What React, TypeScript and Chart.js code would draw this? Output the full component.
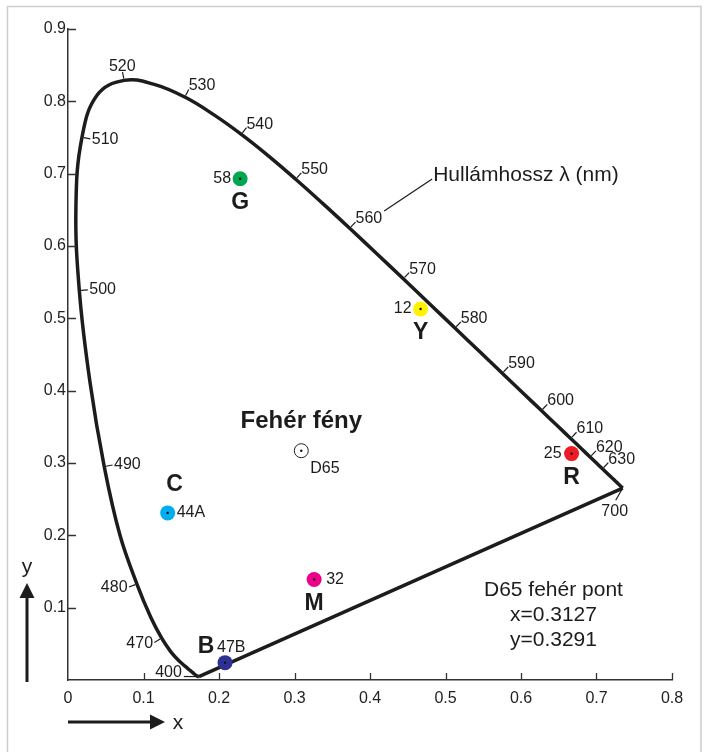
import React, { useEffect, useRef } from 'react';
import { Chart, registerables } from 'chart.js';

Chart.register(...registerables);

// ---- Spectral locus (CIE 1931 xy, as drawn in the picture) ----
const wavelengths = [
  400, 405, 410, 415, 420, 425, 430, 435, 440, 445, 450, 455, 460, 465, 470, 475, 480, 485, 490, 495,
  500, 505, 510, 515, 520, 525, 530, 535, 540, 545, 550, 555, 560, 565, 570, 575, 580, 585, 590, 595,
  600, 605, 610, 615, 620, 625, 630, 635, 640, 645, 650, 655, 660, 665, 670, 675, 680, 685, 690, 695, 700,
];
const locusX = [
  0.1733, 0.1730, 0.1726, 0.1721, 0.1714, 0.1703, 0.1689, 0.1669, 0.1644, 0.1611, 0.1566, 0.1510, 0.1440, 0.1355, 0.1241, 0.1096, 0.0913, 0.0687, 0.0480, 0.0290,
  0.0150, 0.0105, 0.0185, 0.0389, 0.0743, 0.1142, 0.1547, 0.1929, 0.2296, 0.2658, 0.3016, 0.3373, 0.3731, 0.4087, 0.4441, 0.4788, 0.5125, 0.5448, 0.5752, 0.6029,
  0.6270, 0.6482, 0.6658, 0.6801, 0.6915, 0.7006, 0.7079, 0.7140, 0.7190, 0.7230, 0.7260, 0.7283, 0.7300, 0.7311, 0.7320, 0.7327, 0.7334, 0.7340, 0.7344, 0.7346, 0.7347,
];
const locusY = [
  0.0048, 0.0048, 0.0048, 0.0048, 0.0051, 0.0058, 0.0069, 0.0086, 0.0109, 0.0138, 0.0177, 0.0227, 0.0297, 0.0399, 0.0578, 0.0868, 0.1327, 0.2007, 0.2950, 0.4127,
  0.5384, 0.6548, 0.7502, 0.8090, 0.8290, 0.8235, 0.8059, 0.7816, 0.7543, 0.7243, 0.6923, 0.6589, 0.6245, 0.5896, 0.5547, 0.5202, 0.4866, 0.4544, 0.4242, 0.3965,
  0.3725, 0.3514, 0.3340, 0.3197, 0.3083, 0.2993, 0.2920, 0.2859, 0.2809, 0.2770, 0.2740, 0.2717, 0.2700, 0.2689, 0.2680, 0.2673, 0.2666, 0.2660, 0.2656, 0.2654, 0.2653,
];

// wavelengths that carry a tick and a label
const markedWavelengths = [400, 470, 480, 490, 500, 510, 520, 530, 540, 550, 560, 570, 580, 590, 600, 610, 620, 630, 700];
const innerLabelWavelengths = [490, 500, 510];
const leaderWavelength = 560;
const waveTitle = 'Hullámhossz λ (nm)';

// ---- Colour samples ----
const sampleNames = ['G', 'Y', 'R', 'C', 'M', 'B'];
const sampleCodes = ['58', '12', '25', '44A', '32', '47B'];
const sampleX = [0.228, 0.467, 0.667, 0.132, 0.326, 0.208];
const sampleY = [0.693, 0.513, 0.313, 0.231, 0.139, 0.024];
const sampleColors = ['#00a651', '#fff200', '#ed1c24', '#00aeef', '#ec008c', '#2e3192'];

// ---- White point ----
const whiteName = 'D65';
const whiteX = 0.309;
const whiteY = 0.317;
const whiteTitle = 'Fehér fény';
const infoLines = ['D65 fehér pont', 'x=0.3127', 'y=0.3291'];
const infoX = 0.643;
const infoY = [0.124, 0.0897, 0.0552];

// ---- Axes ----
const xTickValues = [0, 0.1, 0.2, 0.3, 0.4, 0.5, 0.6, 0.7, 0.8];
const yTickValues = [0.1, 0.2, 0.3, 0.4, 0.5, 0.6, 0.7, 0.8, 0.9];
const xAxisName = 'x';
const yAxisName = 'y';

// ---- styles / placement (pixels) ----
const FONT = "'Liberation Sans', Arial, Helvetica, sans-serif";
const INK = '#1c1c1c';
const sampleLayout: Record<string, { code: [number, number, CanvasTextAlign]; name: [number, number] }> = {
  G: { code: [-9, 0, 'right'], name: [0, 24] },
  Y: { code: [-9, 0, 'right'], name: [0, 24] },
  R: { code: [-10, 0, 'right'], name: [0, 24] },
  C: { code: [9, 0, 'left'], name: [7, -28] },
  M: { code: [12, 0, 'left'], name: [0, 24] },
  B: { code: [-8, -15, 'left'], name: [-19, -16] },
};
const specialTicks: Record<number, { dx: number; dy: number; len: number; align: CanvasTextAlign; base: CanvasTextBaseline; lx: number; ly: number }> = {
  400: { dx: -1, dy: 0, len: 15, align: 'right', base: 'middle', lx: -2, ly: -4 },
  700: { dx: -0.5, dy: 0.866, len: 14, align: 'center', base: 'top', lx: -1, ly: 3 },
};

const annotations = {
  id: 'cieAnnotations',
  beforeDraw(chart: any) {
    const ctx = chart.ctx as CanvasRenderingContext2D;
    ctx.save();
    ctx.fillStyle = '#ffffff';
    ctx.fillRect(0, 0, chart.width, chart.height);
    ctx.strokeStyle = '#cdcdcd';
    ctx.lineWidth = 1.5;
    ctx.strokeRect(7.5, 6.5, 693.5, 800);
    ctx.restore();
  },
  afterDraw(chart: any) {
    const ctx = chart.ctx as CanvasRenderingContext2D;
    const xs = chart.scales.x;
    const ys = chart.scales.y;
    const P = (x: number, y: number) => [xs.getPixelForValue(x), ys.getPixelForValue(y)];
    const area = chart.chartArea;
    ctx.save();

    // inward axis ticks
    ctx.strokeStyle = '#333';
    ctx.lineWidth = 1.3;
    ctx.beginPath();
    xTickValues.filter((v) => v > 0).forEach((v) => {
      const x = Math.round(xs.getPixelForValue(v)) + 0.5;
      ctx.moveTo(x, area.bottom);
      ctx.lineTo(x, area.bottom - 7);
    });
    yTickValues.forEach((v) => {
      const y = Math.round(ys.getPixelForValue(v)) + 0.5;
      ctx.moveTo(area.left, y);
      ctx.lineTo(area.left + 8, y);
    });
    ctx.stroke();

    // wavelength ticks & labels
    ctx.font = `16px ${FONT}`;
    ctx.fillStyle = INK;
    ctx.strokeStyle = INK;
    ctx.lineWidth = 1.2;
    markedWavelengths.forEach((wl) => {
      const i = wavelengths.indexOf(wl);
      const [px, py] = P(locusX[i], locusY[i]);
      let nx: number, ny: number, len = 8.5, start = 1.8;
      let align: CanvasTextAlign, base: CanvasTextBaseline, lx = 0, ly = 0;
      const sp = specialTicks[wl];
      if (sp) {
        nx = sp.dx; ny = sp.dy; len = sp.len; start = 0.5;
        align = sp.align; base = sp.base; lx = sp.lx; ly = sp.ly;
      } else {
        const a = Math.max(0, i - 1), b = Math.min(wavelengths.length - 1, i + 1);
        const [ax, ay] = P(locusX[a], locusY[a]);
        const [bx, by] = P(locusX[b], locusY[b]);
        const tx = bx - ax, ty = by - ay;
        const l = Math.hypot(tx, ty);
        nx = ty / l; ny = -tx / l;
        if (innerLabelWavelengths.includes(wl)) { nx = -nx; ny = -ny; }
        align = nx > 0.35 ? 'left' : nx < -0.35 ? 'right' : 'center';
        base = ny < -0.6 ? 'alphabetic' : ny > 0.6 ? 'top' : 'middle';
        lx = nx * 1.5; ly = ny * 1.5;
        if (base === 'alphabetic' && align === 'left') { lx = 0; ly = 1; }
      }
      const ex = px + nx * len, ey = py + ny * len;
      ctx.beginPath();
      ctx.moveTo(px + nx * start, py + ny * start);
      ctx.lineTo(ex, ey);
      ctx.stroke();
      ctx.textAlign = align;
      ctx.textBaseline = base;
      const tx0 = ex + lx, ty0 = ey + ly;
      ctx.fillText(String(wl), tx0, ty0);

      if (wl === leaderWavelength) {
        const w = ctx.measureText(String(wl)).width;
        const sx = tx0 + w + 2, sy = ty0 - 12;
        const lx2 = sx + 48, ly2 = sy - 32;
        ctx.beginPath();
        ctx.moveTo(sx, sy);
        ctx.lineTo(lx2, ly2);
        ctx.stroke();
        ctx.save();
        ctx.font = `21px ${FONT}`;
        ctx.textAlign = 'left';
        ctx.textBaseline = 'alphabetic';
        ctx.fillText(waveTitle, lx2 + 1, ly2 + 2);
        ctx.restore();
      }
    });

    // samples
    sampleNames.forEach((name, i) => {
      const [px, py] = P(sampleX[i], sampleY[i]);
      const lay = sampleLayout[name];
      ctx.font = `16px ${FONT}`;
      ctx.textAlign = lay.code[2];
      ctx.textBaseline = 'middle';
      ctx.fillText(sampleCodes[i], px + lay.code[0], py + lay.code[1]);
      ctx.font = `bold 23px ${FONT}`;
      ctx.textAlign = 'center';
      ctx.fillText(name, px + lay.name[0], py + lay.name[1]);
    });

    // white point texts
    const [wx, wy] = P(whiteX, whiteY);
    ctx.font = `16px ${FONT}`;
    ctx.textAlign = 'left';
    ctx.textBaseline = 'middle';
    ctx.fillText(whiteName, wx + 9, wy + 18);
    ctx.font = `bold 24px ${FONT}`;
    ctx.textAlign = 'center';
    ctx.fillText(whiteTitle, wx, wy - 29);

    // info block
    ctx.font = `21px ${FONT}`;
    ctx.textAlign = 'center';
    infoLines.forEach((t, i) => {
      const [ix, iy] = P(infoX, infoY[i]);
      ctx.fillText(t, ix, iy);
    });

    // axis arrows
    ctx.strokeStyle = INK;
    ctx.fillStyle = INK;
    ctx.lineWidth = 3;
    // y arrow
    const yax = 27;
    ctx.beginPath();
    ctx.moveTo(yax, area.bottom + 2);
    ctx.lineTo(yax, area.bottom - 85);
    ctx.stroke();
    ctx.beginPath();
    ctx.moveTo(yax, area.bottom - 97);
    ctx.lineTo(yax - 7.5, area.bottom - 82);
    ctx.lineTo(yax + 7.5, area.bottom - 82);
    ctx.closePath();
    ctx.fill();
    // x arrow
    const xay = area.bottom + 42;
    ctx.beginPath();
    ctx.moveTo(area.left, xay);
    ctx.lineTo(area.left + 86, xay);
    ctx.stroke();
    ctx.beginPath();
    ctx.moveTo(area.left + 97, xay);
    ctx.lineTo(area.left + 82, xay - 7.5);
    ctx.lineTo(area.left + 82, xay + 7.5);
    ctx.closePath();
    ctx.fill();
    ctx.font = `21px ${FONT}`;
    ctx.textAlign = 'center';
    ctx.textBaseline = 'middle';
    ctx.fillText(yAxisName, yax, area.bottom - 113);
    ctx.fillText(xAxisName, area.left + 110, xay + 1);

    ctx.restore();
  },
};

export default function App() {
  const ref = useRef<HTMLCanvasElement>(null);
  useEffect(() => {
    if (!ref.current) return;
    Chart.defaults.font.family = FONT;
    const locus = wavelengths.map((_, i) => ({ x: locusX[i], y: locusY[i] }));
    const last = wavelengths.length - 1;
    const purple = [
      { x: locusX[last], y: locusY[last] },
      { x: locusX[0], y: locusY[0] },
    ];
    const chart = new Chart(ref.current, {
      type: 'scatter',
      data: {
        datasets: [
          {
            data: locus,
            showLine: true,
            borderColor: INK,
            borderWidth: 3.5,
            pointRadius: 0,
            tension: 0.4,
            borderJoinStyle: 'round',
            order: 5,
          } as any,
          {
            data: purple,
            showLine: true,
            borderColor: INK,
            borderWidth: 3.5,
            pointRadius: 0,
            borderJoinStyle: 'round',
            order: 4,
          } as any,
          {
            data: sampleX.map((x, i) => ({ x, y: sampleY[i] })),
            pointRadius: 7.5,
            pointBackgroundColor: sampleColors,
            pointBorderWidth: 0,
            borderWidth: 0,
            order: 3,
          } as any,
          {
            data: [{ x: whiteX, y: whiteY }],
            pointRadius: 7,
            pointBackgroundColor: '#ffffff',
            pointBorderColor: '#222',
            pointBorderWidth: 1,
            order: 2,
          } as any,
          {
            data: [...sampleX.map((x, i) => ({ x, y: sampleY[i] })), { x: whiteX, y: whiteY }],
            pointRadius: 1.2,
            pointBackgroundColor: '#111',
            pointBorderWidth: 0,
            order: 1,
          } as any,
        ],
      },
      options: {
        responsive: false,
        animation: false,
        events: [],
        layout: { padding: { left: 8, top: 29, right: 33, bottom: 32 } },
        plugins: { legend: { display: false }, tooltip: { enabled: false }, title: { display: false } },
        scales: {
          x: {
            type: 'linear',
            min: 0,
            max: 0.8,
            afterFit: (s: any) => { s.height = 40; },
            afterBuildTicks: (s: any) => { s.ticks = xTickValues.map((v) => ({ value: v })); },
            grid: { display: false, drawTicks: false },
            border: { display: true, color: '#333', width: 1.5 },
            ticks: {
              padding: 9,
              color: '#222',
              font: { size: 16, family: FONT },
              callback: (v: any) => (Number(v) === 0 ? '0' : Number(v).toFixed(1)),
            },
          },
          y: {
            type: 'linear',
            min: 0,
            max: 0.9,
            afterFit: (s: any) => { s.width = 60; },
            afterBuildTicks: (s: any) => { s.ticks = yTickValues.map((v) => ({ value: v })); },
            grid: { display: false, drawTicks: false },
            border: { display: true, color: '#333', width: 1.5 },
            ticks: {
              padding: 2,
              color: '#222',
              font: { size: 16, family: FONT },
              callback: (v: any) => Number(v).toFixed(1),
            },
          },
        },
      },
      plugins: [annotations],
    });
    return () => chart.destroy();
  }, []);
  return (
    <div style={{ position: 'absolute', left: 0, top: 0, width: 705, height: 752, overflow: 'hidden' }}>
      <canvas ref={ref} width={705} height={752} style={{ display: 'block' }} />
    </div>
  );
}
